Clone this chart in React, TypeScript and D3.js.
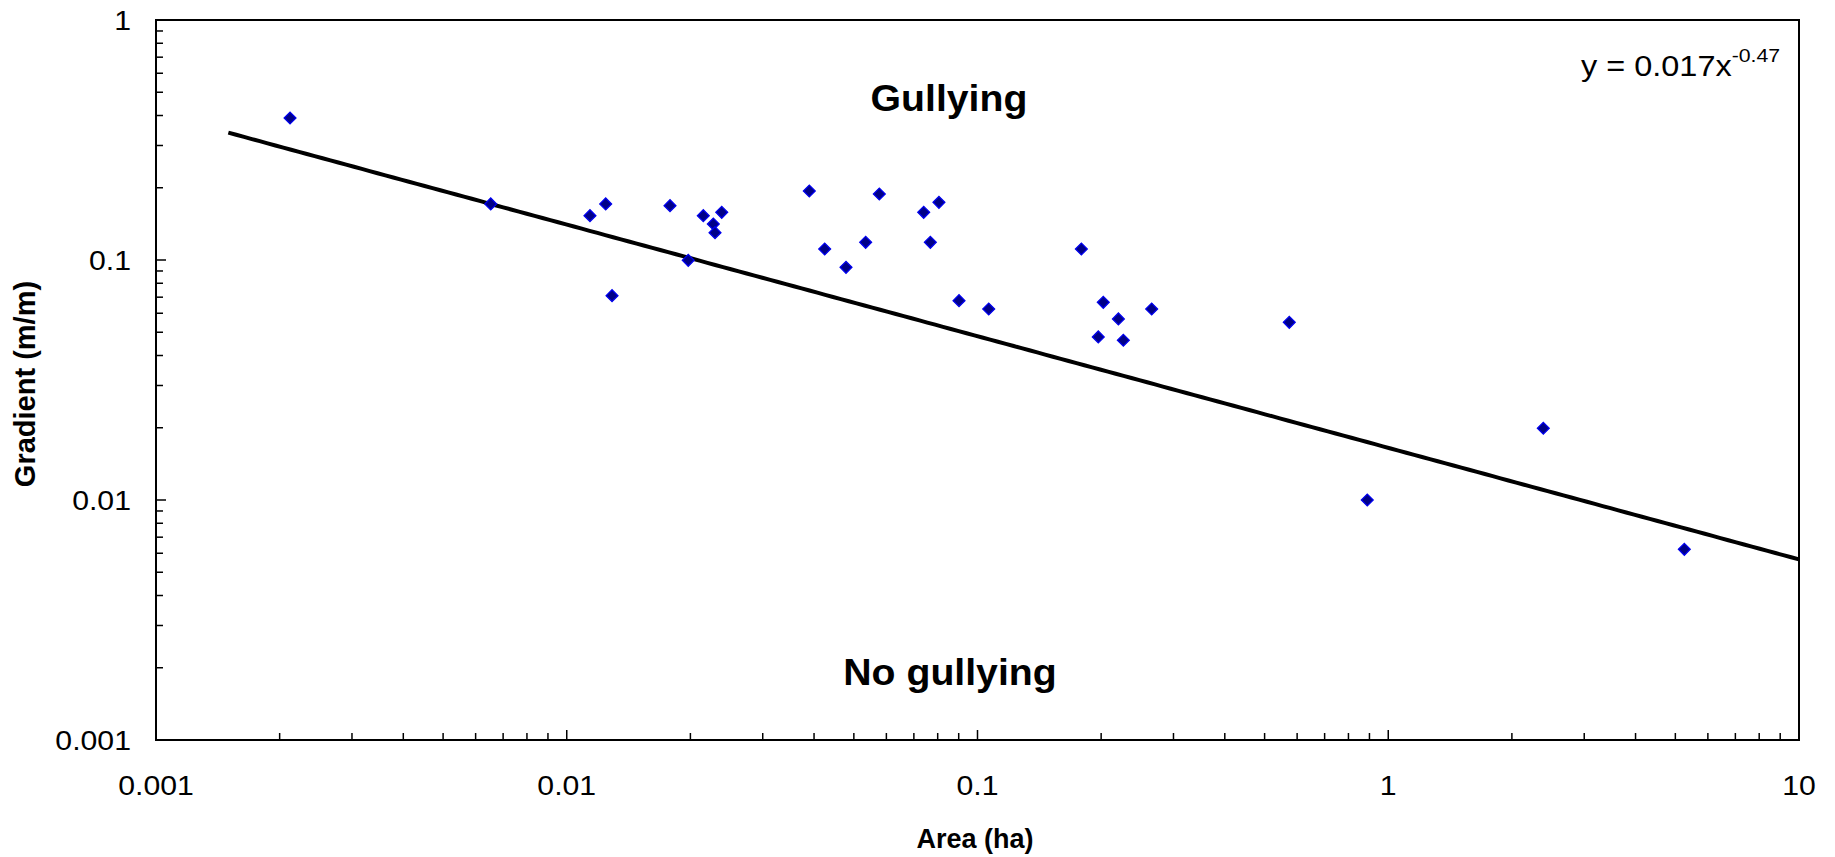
import React, { useEffect, useRef } from "react";
import * as d3 from "d3";

const W = 1835,
  H = 857;

// plot area edges
const margin = { top: 20, right: 36, bottom: 117, left: 156 };

// field points: catchment area (ha) and gradient (m/m)
const areaHa = [
  0.00212, 0.00653, 0.01139, 0.01244, 0.01289, 0.01784, 0.01976, 0.0215,
  0.02274, 0.02296, 0.02384, 0.03895, 0.04246, 0.04785, 0.05342, 0.05767,
  0.07396, 0.08056, 0.07677, 0.09016, 0.1065, 0.179, 0.2024, 0.1968, 0.2203,
  0.2265, 0.2655, 0.5742, 0.889, 2.385, 5.258,
];
const gradient = [
  0.3905, 0.1712, 0.153, 0.1712, 0.071, 0.1684, 0.0997, 0.153, 0.1413, 0.13,
  0.158, 0.1939, 0.1111, 0.0932, 0.1185, 0.1884, 0.158, 0.1739, 0.1185,
  0.0677, 0.0625, 0.1111, 0.0666, 0.0478, 0.0568, 0.0463, 0.0625, 0.055,
  0.01, 0.0199, 0.00623,
];

// power trendline y = a * x^b (as drawn), and its label
const trendCoef = 0.0165;
const trendExp = -0.465;
const trendFrom = 0.0015;
const trendTo = 10;
const eqMain = "y = 0.017x";
const eqSup = "-0.47";

const xTicks = [0.001, 0.01, 0.1, 1, 10];
const xTickLabels = ["0.001", "0.01", "0.1", "1", "10"];
const yTicks = [0.001, 0.01, 0.1, 1];
const yTickLabels = ["0.001", "0.01", "0.1", "1"];

const FONT = "Liberation Sans, Arial, sans-serif";
// the reference lettering runs a bit wide
const SX = 1.12;

function Chart() {
  const ref = useRef<SVGSVGElement | null>(null);

  useEffect(() => {
    const svg = d3.select(ref.current);
    svg.selectAll("*").remove();

    const x = d3
      .scaleLog()
      .domain([0.001, 10])
      .range([margin.left, W - margin.right]);
    const y = d3
      .scaleLog()
      .domain([0.001, 1])
      .range([H - margin.bottom, margin.top]);

    svg.append("rect").attr("width", W).attr("height", H).attr("fill", "#fff");

    // minor + major ticks, drawn inward
    const isMajor = (v: number, list: number[]) =>
      list.some((t) => Math.abs(t - v) / t < 1e-9);
    const minorX = x.ticks().filter((v) => !isMajor(v, xTicks));
    const minorY = y.ticks().filter((v) => !isMajor(v, yTicks));

    const ticks = svg.append("g").attr("stroke", "#000").attr("stroke-width", 1.5);
    const xTickLine = (data: number[], len: number) =>
      ticks
        .append("g")
        .selectAll("line")
        .data(data)
        .join("line")
        .attr("x1", (d) => x(d))
        .attr("x2", (d) => x(d))
        .attr("y1", y.range()[0])
        .attr("y2", y.range()[0] - len);
    const yTickLine = (data: number[], len: number) =>
      ticks
        .append("g")
        .selectAll("line")
        .data(data)
        .join("line")
        .attr("x1", x.range()[0])
        .attr("x2", x.range()[0] + len)
        .attr("y1", (d) => y(d))
        .attr("y2", (d) => y(d));
    xTickLine(minorX, 7);
    xTickLine(xTicks, 10);
    yTickLine(minorY, 7);
    yTickLine(yTicks, 10);

    // frame
    svg
      .append("rect")
      .attr("x", x.range()[0])
      .attr("y", y.range()[1])
      .attr("width", x.range()[1] - x.range()[0])
      .attr("height", y.range()[0] - y.range()[1])
      .attr("fill", "none")
      .attr("stroke", "#000")
      .attr("stroke-width", 2);

    // tick labels
    svg
      .append("g")
      .attr("font-family", FONT)
      .attr("font-size", 27)
      .attr("text-anchor", "middle")
      .selectAll("text")
      .data(xTicks)
      .join("text")
      .attr("transform", (d) => `translate(${x(d)},795) scale(${SX},1)`)
      .text((d, i) => xTickLabels[i]);
    svg
      .append("g")
      .attr("font-family", FONT)
      .attr("font-size", 27)
      .attr("text-anchor", "end")
      .selectAll("text")
      .data(yTicks)
      .join("text")
      .attr("transform", (d) => `translate(131,${y(d)}) scale(${SX},1)`)
      .attr("dy", "0.36em")
      .text((d, i) => yTickLabels[i]);

    // trendline
    const trendX = d3
      .range(0, 201)
      .map((i) => trendFrom * Math.pow(trendTo / trendFrom, i / 200));
    svg
      .append("path")
      .datum(trendX)
      .attr("fill", "none")
      .attr("stroke", "#000")
      .attr("stroke-width", 4)
      .attr(
        "d",
        d3
          .line<number>()
          .x((d) => x(d))
          .y((d) => y(trendCoef * Math.pow(d, trendExp)))
      );

    // points
    const diamond = d3.symbol().type(d3.symbolSquare).size(70);
    svg
      .append("g")
      .selectAll("path")
      .data(areaHa)
      .join("path")
      .attr("d", diamond)
      .attr(
        "transform",
        (d, i) => `translate(${x(d)},${y(gradient[i])}) rotate(45)`
      )
      .attr("fill", "#000088")
      .attr("stroke", "#0000ee")
      .attr("stroke-width", 1.3);

    // region labels
    const region = (label: string, cx: number, by: number) =>
      svg
        .append("text")
        .attr("transform", `translate(${cx},${by}) scale(1.06,1)`)
        .attr("text-anchor", "middle")
        .attr("font-family", FONT)
        .attr("font-weight", "bold")
        .attr("font-size", 37)
        .text(label);
    region("Gullying", 949, 111);
    region("No gullying", 950, 685);

    // equation
    const eq = svg
      .append("text")
      .attr("transform", `translate(1581,76) scale(${SX},1)`)
      .attr("font-family", FONT)
      .attr("font-size", 29);
    eq.append("tspan").text(eqMain);
    eq.append("tspan").attr("font-size", 19).attr("dy", -14).text(eqSup);

    // axis titles
    svg
      .append("text")
      .attr("x", 975)
      .attr("y", 848)
      .attr("text-anchor", "middle")
      .attr("font-family", FONT)
      .attr("font-weight", "bold")
      .attr("font-size", 27)
      .text("Area (ha)");
    svg
      .append("text")
      .attr("transform", "translate(35,384) rotate(-90)")
      .attr("text-anchor", "middle")
      .attr("font-family", FONT)
      .attr("font-weight", "bold")
      .attr("font-size", 29)
      .text("Gradient (m/m)");
  }, []);

  return (
    <svg
      ref={ref}
      width={W}
      height={H}
      style={{ position: "absolute", left: 0, top: 0, display: "block" }}
    />
  );
}

export default function App() {
  return <Chart />;
}
